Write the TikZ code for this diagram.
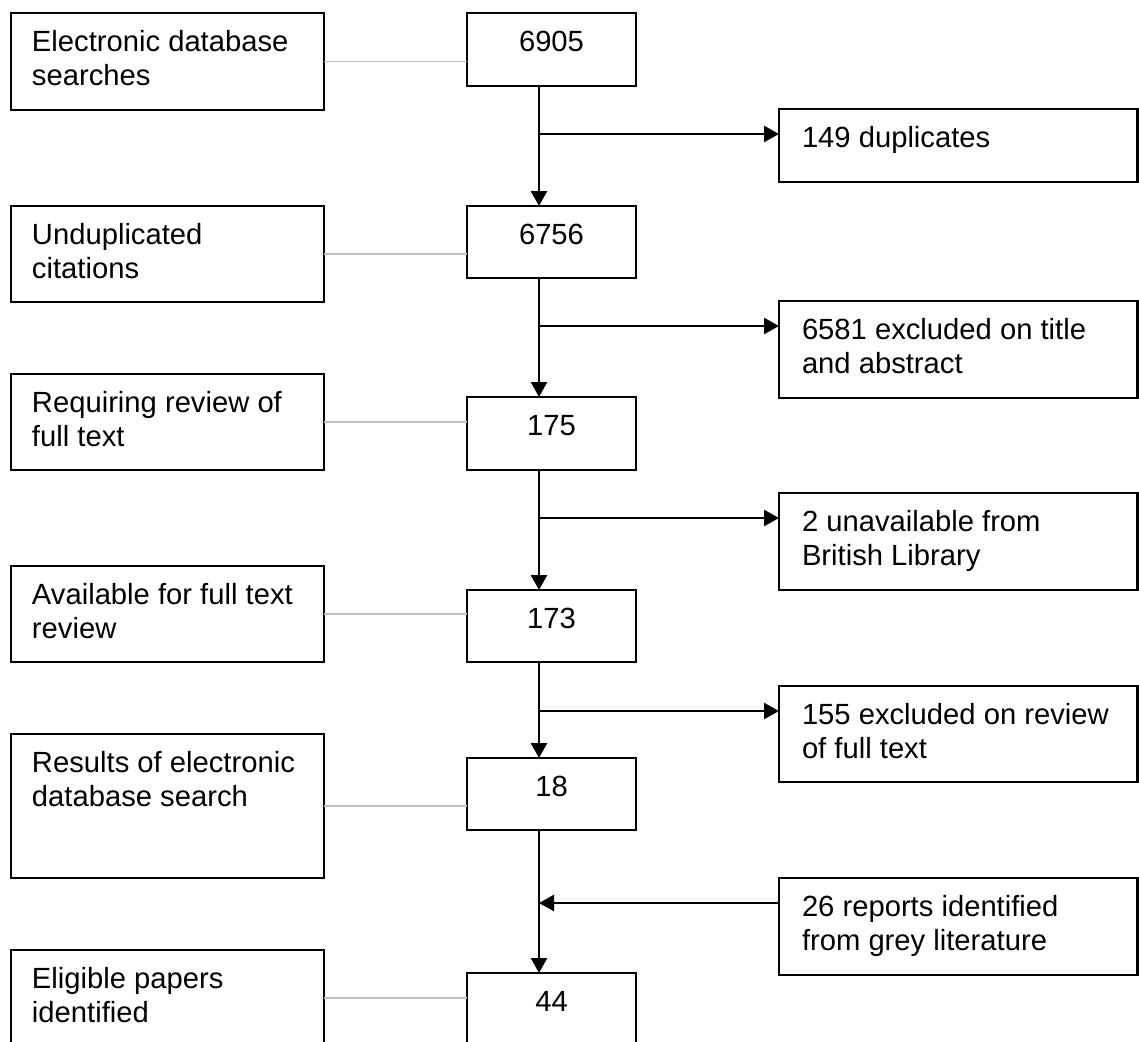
\documentclass[tikz,border=0pt]{standalone}
\usepackage{fontspec}
\setmainfont{Liberation Sans}
\usetikzlibrary{arrows.meta}
\definecolor{linkgray}{RGB}{191,191,191}
% box contents: fixed-height parbox, text hung from the top edge
\newcommand\lefttext[2]{\parbox[c][#1][t]{135.5pt}{\raggedright\vspace*{7.5pt}\strut #2}}
\newcommand\midtext[2]{\parbox[c][#1][t]{84.5pt}{\centering\vspace*{7.5pt}\strut #2}}
\newcommand\righttext[2]{\parbox[c][#1][t]{156.25pt}{\raggedright\vspace*{7.5pt}\strut #2}}
\begin{document}
\begin{tikzpicture}[x=0.5pt, y=-0.5pt,
  every node/.style={font=\fontsize{14.6pt}{16.8pt}\selectfont},
  stage/.style={draw, line width=1.1pt, anchor=north west, inner ysep=0pt, outer sep=0pt},
  leftbox/.style={stage, inner xsep=10.5pt},
  midbox/.style={stage, inner xsep=0pt},
  rightbox/.style={stage, inner xsep=11.5pt},
  flow/.style={line width=1.3pt, -{Triangle[length=7.5pt,width=8pt]}},
  link/.style={draw=linkgray, line width=0.9pt}]
\useasboundingbox (0,0) rectangle (1139,1041);
\fill[white] (0,0) rectangle (1139,1041);
\clip (0,0) rectangle (1139,1041);

% descriptions
\node[leftbox] (l1) at (11,13)  {\lefttext{48.5pt}{Electronic database\\searches}};
\node[leftbox] (l2) at (11,206) {\lefttext{48pt}{Unduplicated\\citations}};
\node[leftbox] (l3) at (11,374) {\lefttext{48pt}{Requiring review of\\full text}};
\node[leftbox] (l4) at (11,566) {\lefttext{48pt}{Available for full text\\review}};
\node[leftbox] (l5) at (11,734) {\lefttext{72pt}{Results of electronic\\database search}};
\node[leftbox] (l6) at (11,950) {\lefttext{48pt}{Eligible papers\\identified}};

% counts
\node[midbox] (m1) at (467,13)  {\midtext{36.5pt}{6905}};
\node[midbox] (m2) at (467,206) {\midtext{36pt}{6756}};
\node[midbox] (m3) at (467,397) {\midtext{36.5pt}{175}};
\node[midbox] (m4) at (467,590) {\midtext{36pt}{173}};
\node[midbox] (m5) at (467,758) {\midtext{36pt}{18}};
\node[midbox] (m6) at (467,973) {\midtext{36pt}{44}};

% exclusions and additions
\node[rightbox] (r1) at (779,109) {\righttext{36.5pt}{149 duplicates}};
\node[rightbox] (r2) at (779,301) {\righttext{48.5pt}{6581 excluded on title\\and abstract}};
\node[rightbox] (r3) at (779,493) {\righttext{48.5pt}{2 unavailable from\\British Library}};
\node[rightbox] (r4) at (779,686) {\righttext{48pt}{155 excluded on review\\of full text}};
\node[rightbox] (r5) at (779,878) {\righttext{48.5pt}{26 reports identified\\from grey literature}};

% grey links from descriptions to counts
\foreach \i in {1,...,6}
  \draw[link] (l\i.east) -- (l\i.east -| m\i.west);

% main flow line
\coordinate (spine) at (539,0);
\draw[flow] (m1.south -| spine) -- (m2.north -| spine);
\draw[flow] (m2.south -| spine) -- (m3.north -| spine);
\draw[flow] (m3.south -| spine) -- (m4.north -| spine);
\draw[flow] (m4.south -| spine) -- (m5.north -| spine);
\draw[flow] (m5.south -| spine) -- (m6.north -| spine);

% side branches
\foreach \i in {1,...,5}
  \coordinate (b\i) at ([yshift=-12.5pt]r\i.north west);
\foreach \i in {1,...,4}
  \draw[flow] (b\i -| spine) -- (b\i);
\draw[flow] (b5) -- (b5 -| spine);
\end{tikzpicture}
\end{document}
